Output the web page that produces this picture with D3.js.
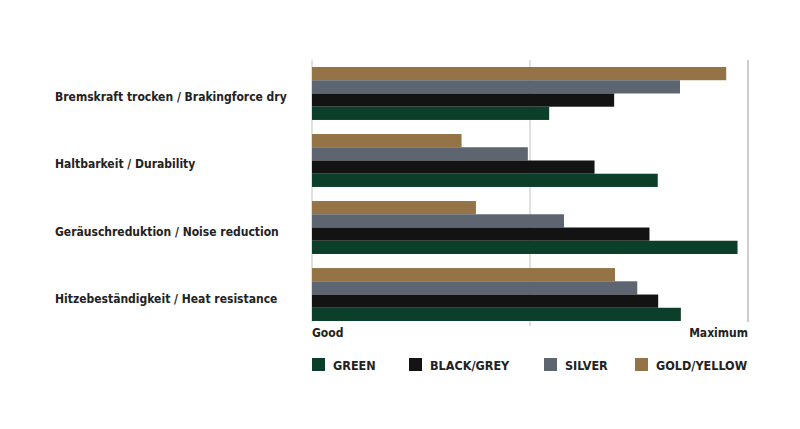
<!DOCTYPE html>
<html><head><meta charset="utf-8">
<script src="https://cdn.jsdelivr.net/npm/d3@7"></script>
<style>body{margin:0;background:#fff}svg{display:block}text{font-family:"DejaVu Sans Condensed","DejaVu Sans",sans-serif;font-weight:bold;fill:#222}</style>
</head><body><svg id="c" width="800" height="429"></svg>
<script>
const categories = ["Bremskraft trocken / Brakingforce dry","Haltbarkeit / Durability","Geräuschreduktion / Noise reduction","Hitzebeständigkeit / Heat resistance"];
const seriesNames = ["GOLD/YELLOW","SILVER","BLACK/GREY","GREEN"];
const gold   = [95, 34.3, 37.6, 69.5];
const silver = [84.4, 49.5, 57.8, 74.6];
const black  = [69.3, 64.8, 77.4, 79.4];
const green  = [54.4, 79.3, 97.6, 84.6];
const colors = {"GREEN":"#0c3f29","BLACK/GREY":"#141313","SILVER":"#5d6570","GOLD/YELLOW":"#947446"};
const legendOrder = ["GREEN","BLACK/GREY","SILVER","GOLD/YELLOW"];
const axisLabels = ["Good","Maximum"];
const gridValues = [0,50,100];

const values = {"GOLD/YELLOW":gold,"SILVER":silver,"BLACK/GREY":black,"GREEN":green};
const svg = d3.select("#c");
const x = d3.scaleLinear().domain([0,100]).range([312,748]);
const y0 = d3.scaleBand().domain(categories).range([67,321]).paddingInner(0.21).paddingOuter(0);
const y1 = d3.scaleBand().domain(seriesNames).range([0,y0.bandwidth()]).padding(0);

// gridlines
svg.append("g").selectAll("line").data(gridValues).join("line")
  .attr("x1",d=>x(d)).attr("x2",d=>x(d)).attr("y1",60).attr("y2",d=>d===50?326:322)
  .attr("stroke",d=>d===100?"#bdbdbd":"#d6d6d6").attr("stroke-width",1.5);

const g = svg.append("g").selectAll("g").data(categories).join("g")
  .attr("transform",c=>`translate(0,${y0(c)})`);
g.selectAll("rect").data((c,i)=>seriesNames.map(s=>({s,v:values[s][i]}))).join("rect")
  .attr("x",x(0)).attr("y",d=>y1(d.s)).attr("height",y1.bandwidth())
  .attr("width",d=>x(d.v)-x(0)).attr("fill",d=>colors[d.s]);

svg.append("g").selectAll("text").data(categories).join("text")
  .attr("x",55).attr("y",c=>y0(c)+y0.bandwidth()/2+8)
  .attr("font-size",12).text(c=>c);

svg.append("text").attr("x",x(0)).attr("y",337).attr("font-size",12).text(axisLabels[0]);
svg.append("text").attr("x",x(100)).attr("y",337).attr("font-size",12).attr("text-anchor","end").text(axisLabels[1]);

const legX = [312,409,544,635];
const leg = svg.append("g").selectAll("g").data(legendOrder).join("g")
  .attr("transform",(d,i)=>`translate(${legX[i]},358)`);
leg.append("rect").attr("width",13).attr("height",13).attr("fill",d=>colors[d]);
leg.append("text").attr("x",21).attr("y",11.5).attr("font-size",12.5).text(d=>d);
</script></body></html>
